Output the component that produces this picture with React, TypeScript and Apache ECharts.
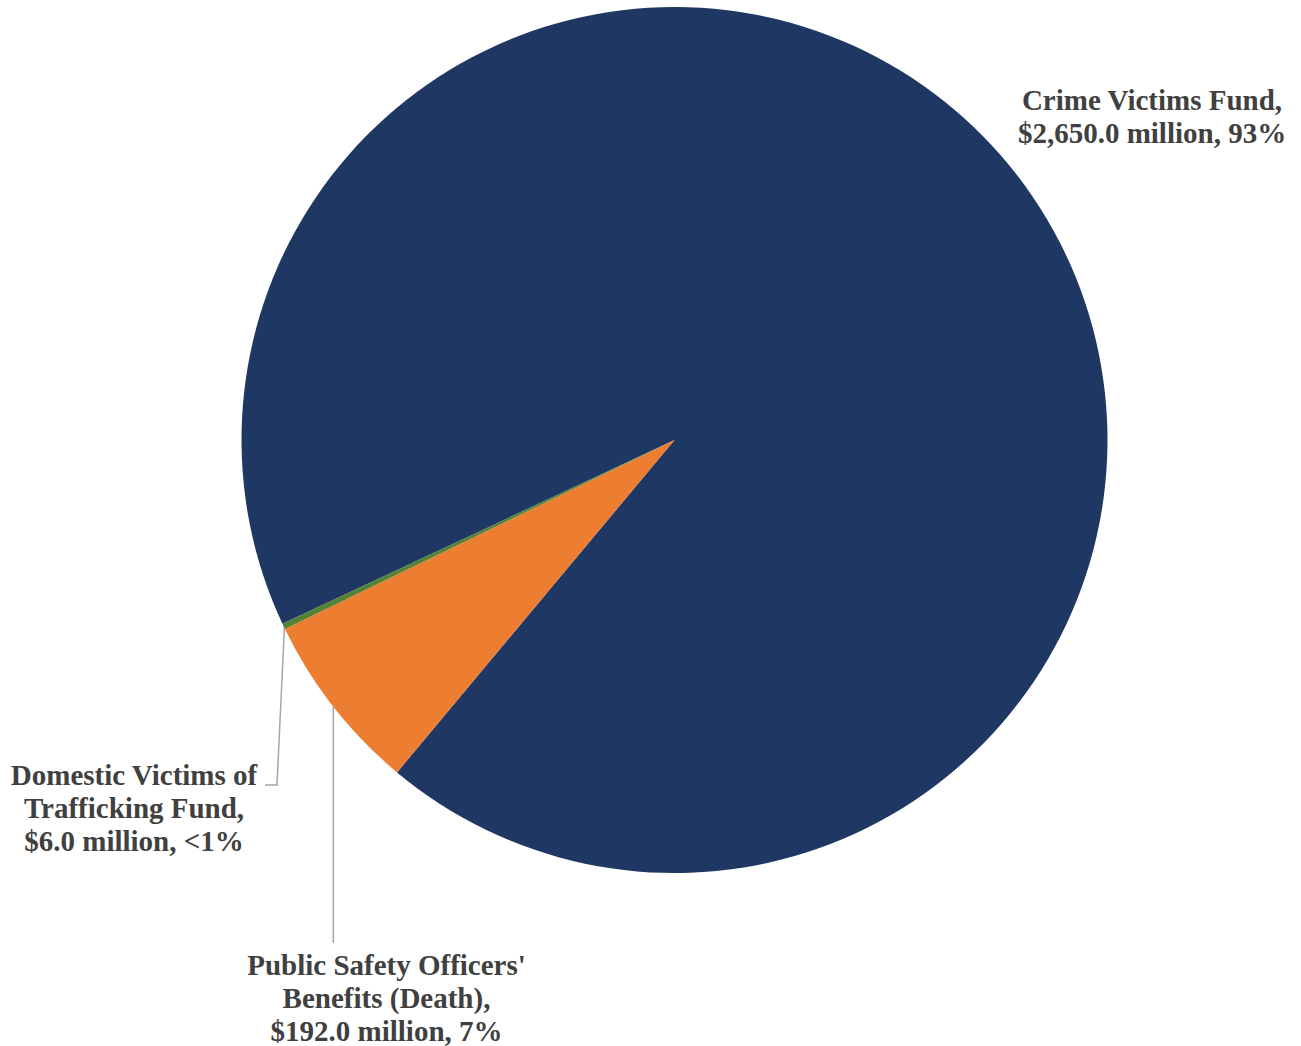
import React, { useEffect, useRef } from "react";
import * as echarts from "echarts";

const categories = [
  "Crime Victims Fund",
  "Public Safety Officers' Benefits (Death)",
  "Domestic Victims of Trafficking Fund",
];
const labelNames = [
  "Crime Victims Fund,",
  "Public Safety Officers'\nBenefits (Death),",
  "Domestic Victims of\nTrafficking Fund,",
];
const values = [2650.0, 192.0, 6.0];
const colors = ["#1F3763", "#ED7D31", "#548235"];

const fmtMoney = (v: number) =>
  "$" + v.toLocaleString("en-US", { minimumFractionDigits: 1, maximumFractionDigits: 1 }) + " million";

export default function App() {
  const ref = useRef<HTMLDivElement>(null);
  useEffect(() => {
    document.body.style.margin = "0";
    const chart = echarts.init(ref.current!, null, { renderer: "svg" });
    const total = values.reduce((a, b) => a + b, 0);
    const layouts = [
      { x: 1152, y: 116.5, line: null as any },
      { x: 386.5, y: 997.5, line: [[333.3, 707], [333.3, 943], [333.3, 943]] },
      { x: 134, y: 808, line: [[284.5, 626], [277, 785], [265, 785]] },
    ];
    chart.setOption({
      animation: false,
      backgroundColor: "#ffffff",
      series: [
        {
          type: "pie",
          center: [674.5, 440],
          radius: [0, 433],
          startAngle: 205.12,
          clockwise: true,
          avoidLabelOverlap: false,
          data: categories.map((c, i) => ({
            name: c,
            value: values[i],
            itemStyle: { color: colors[i] },
            labelLine: { show: i !== 0 },
          })),
          label: {
            show: true,
            position: "outside",
            formatter: (p: any) => {
              const pct = (p.value / total) * 100;
              const pctStr = pct < 1 ? "<1%" : Math.round(pct) + "%";
              return labelNames[p.dataIndex] + "\n" + fmtMoney(p.value) + ", " + pctStr;
            },
            fontFamily: "'Liberation Serif', 'Times New Roman', serif",
            fontWeight: "bold",
            fontSize: 29,
            lineHeight: 33,
            color: "#404040",
            align: "center",
          },
          labelLine: {
            show: true,
            lineStyle: { color: "#A6A6A6", width: 1.5 },
          },
          labelLayout: (params: any) => {
            const l = layouts[params.dataIndex];
            const out: any = { x: l.x, y: l.y, align: "center", verticalAlign: "middle" };
            if (l.line) out.labelLinePoints = l.line;
            return out;
          },
          emphasis: { disabled: true },
        },
      ],
    });
    return () => chart.dispose();
  }, []);
  return <div ref={ref} style={{ width: 1301, height: 1046 }} />;
}
